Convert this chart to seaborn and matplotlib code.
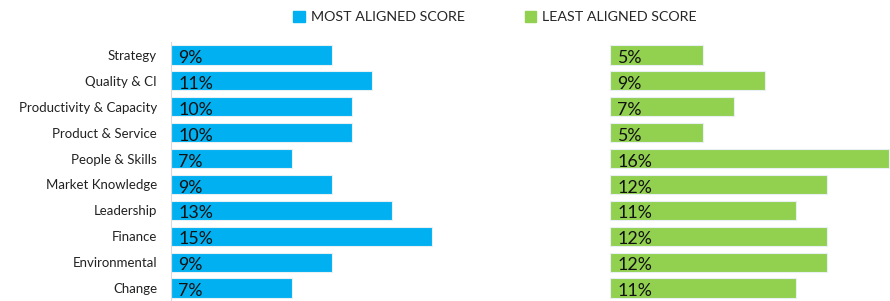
import pandas as pd
import matplotlib.pyplot as plt
import seaborn as sns
from matplotlib.patches import Patch

sns.set_theme(style='white')
plt.rcParams['font.family'] = ['Lato', 'DejaVu Sans']

categories = ['Strategy', 'Quality & CI', 'Productivity & Capacity', 'Product & Service',
              'People & Skills', 'Market Knowledge', 'Leadership', 'Finance',
              'Environmental', 'Change']
# bar lengths (labels show rounded values)
most_aligned = [9.13, 11.42, 10.28, 10.28, 6.86, 9.13, 12.57, 14.85, 9.13, 6.86]
least_aligned = [5.28, 8.81, 7.05, 5.28, 15.87, 12.35, 10.57, 12.35, 12.35, 10.57]

BLUE = '#00B0F0'
GREEN = '#92D050'

df = pd.DataFrame({'category': categories, 'most': most_aligned, 'least': least_aligned})

W, H = 890, 301
fig = plt.figure(figsize=(W / 100, H / 100), dpi=100)

# axes placed in pixel coords
def px_axes(x0, y0, x1, y1):
    return fig.add_axes([x0 / W, 1 - y1 / H, (x1 - x0) / W, (y1 - y0) / H])

ax_l = px_axes(171, 42, 452.6, 301)
ax_r = px_axes(610, 42, 891.6, 301)

for ax, col, color in [(ax_l, 'most', BLUE), (ax_r, 'least', GREEN)]:
    sns.barplot(data=df, x=col, y='category', color=color, orient='h',
                width=0.74, edgecolor='#e8f0f4', linewidth=0.8, ax=ax,
                saturation=1)
    ax.set_xlim(0, 16)
    ax.set_ylim(9.5, -0.5)
    ax.set_xlabel('')
    ax.set_ylabel('')
    ax.set_xticks([])
    for s in ax.spines.values():
        s.set_visible(False)
    for i, v in enumerate(df[col]):
        ax.text(0.4, i + 0.12, f'{round(v)}%', va='center', ha='left',
                fontsize=12.8, color='#111111')

ax_l.spines['left'].set_visible(True)
ax_l.spines['left'].set_color('#d9d9d9')
ax_l.spines['left'].set_linewidth(0.8)
ax_l.tick_params(axis='y', length=0, pad=10, labelsize=9.5, labelcolor='#222222')
ax_r.set_yticks([])

handles = [Patch(color=BLUE, label='MOST ALIGNED SCORE'),
           Patch(color=GREEN, label='LEAST ALIGNED SCORE')]
fig.legend(handles=handles, loc='center', bbox_to_anchor=(495 / W, 1 - 17 / H),
           ncol=2, frameon=False, fontsize=10.3, handlelength=0.8, handleheight=0.8,
           handletextpad=0.4, columnspacing=4.2)

plt.savefig('out.png', dpi=100)
plt.close()
